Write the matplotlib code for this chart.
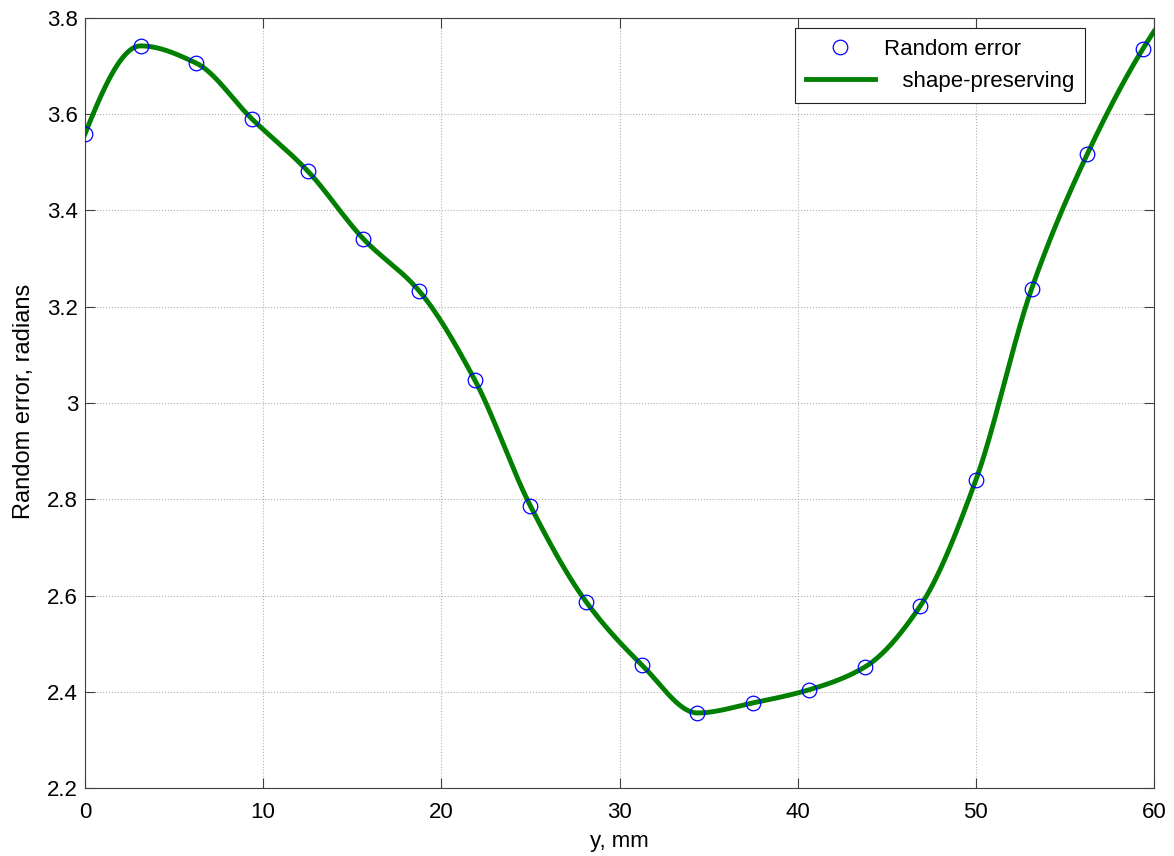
import numpy as np
import matplotlib.pyplot as plt

# data
y_mm = np.arange(20) * 3.125
rand_err = [3.559, 3.742, 3.706, 3.590, 3.482, 3.341, 3.233, 3.048, 2.786, 2.587,
            2.456, 2.356, 2.377, 2.404, 2.451, 2.578, 2.840, 3.237, 3.517, 3.736]
x_fit_end = 60.0


def pchip_slopes(x, y):
    h = np.diff(x)
    d = np.diff(y) / h
    n = len(x)
    m = np.zeros(n)
    for k in range(1, n - 1):
        if d[k - 1] * d[k] > 0:
            w1 = 2 * h[k] + h[k - 1]
            w2 = h[k] + 2 * h[k - 1]
            m[k] = (w1 + w2) / (w1 / d[k - 1] + w2 / d[k])

    def end(h0, h1, d0, d1):
        s = ((2 * h0 + h1) * d0 - h0 * d1) / (h0 + h1)
        if np.sign(s) != np.sign(d0):
            s = 0.0
        elif np.sign(d0) != np.sign(d1) and abs(s) > abs(3 * d0):
            s = 3 * d0
        return s

    m[0] = end(h[0], h[1], d[0], d[1])
    m[-1] = end(h[-1], h[-2], d[-1], d[-2])
    return m


def pchip_eval(x, y, m, xq):
    x = np.asarray(x, float)
    y = np.asarray(y, float)
    idx = np.clip(np.searchsorted(x, xq) - 1, 0, len(x) - 2)
    h = x[idx + 1] - x[idx]
    t = (xq - x[idx]) / h
    h00 = 2 * t**3 - 3 * t**2 + 1
    h10 = t**3 - 2 * t**2 + t
    h01 = -2 * t**3 + 3 * t**2
    h11 = t**3 - t**2
    return h00 * y[idx] + h10 * h * m[idx] + h01 * y[idx + 1] + h11 * h * m[idx + 1]


# shape-preserving (pchip) fit through the points, as in the legend
slopes = pchip_slopes(y_mm, np.array(rand_err))
xq = np.linspace(0, x_fit_end, 1200)
yq = pchip_eval(y_mm, rand_err, slopes, xq)

plt.rcParams['font.family'] = ['Liberation Sans', 'DejaVu Sans']

fig = plt.figure(figsize=(11.74, 8.56), dpi=100)
ax = fig.add_axes([0.0724, 0.0794, 0.9106, 0.8996])

ax.plot(y_mm, rand_err, 'o', mfc='none', mec='#0000ff', ms=10.5, mew=0.9,
        label='Random error', zorder=3)
ax.plot(xq, yq, color='#007f00', lw=3.5, label='   shape-preserving', zorder=2)

ax.set_xlim(0, 60)
ax.set_ylim(2.2, 3.8)
ax.set_xticks(np.arange(0, 61, 10))
ax.set_yticks(np.arange(2.2, 3.81, 0.2))
ax.set_yticklabels(['2.2', '2.4', '2.6', '2.8', '3', '3.2', '3.4', '3.6', '3.8'])
ax.tick_params(direction='in', top=True, right=True, length=7, labelsize=16,
               width=0.8, color='#404040')
ax.tick_params(axis='x', pad=10)
ax.tick_params(axis='y', pad=5)
ax.grid(True, linestyle=':', color='#b0b0b0', linewidth=0.8)
for s in ax.spines.values():
    s.set_color('#404040')
    s.set_linewidth(0.8)

ax.set_xlabel('y, mm', fontsize=16)
ax.xaxis.set_label_coords(0.5, -0.056)
ax.set_ylabel('Random error, radians', fontsize=17)
ax.yaxis.set_label_coords(-0.047, 0.502)

leg = ax.legend(loc='upper right', bbox_to_anchor=(0.9355, 0.987), fontsize=16,
                fancybox=False, framealpha=1, edgecolor='#202020',
                borderaxespad=0, handlelength=3.1, handletextpad=0.4,
                borderpad=0.5, labelspacing=0.5)
leg.get_frame().set_linewidth(0.8)

fig.savefig('out.png', dpi=100)
